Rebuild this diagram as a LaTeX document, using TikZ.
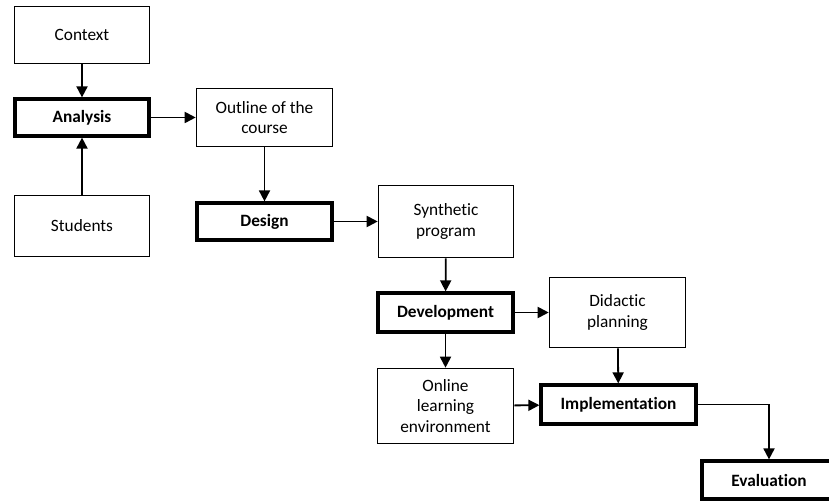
\documentclass[tikz,border=0pt]{standalone}
\usepackage{fontspec}
\setmainfont[Ligatures={NoCommon}]{Carlito}
\usetikzlibrary{arrows.meta}
\begin{document}
\begin{tikzpicture}[x=1pt,y=-1pt,
  box/.style={draw,line width=1.6pt,align=center,inner sep=0pt,
    font=\fontsize{17.3}{20.5}\selectfont,text=black},
  thin/.style={box},
  thick/.style={box,line width=3.2pt,font=\fontsize{17.3}{20.5}\selectfont\bfseries},
  conn/.style={line width=1.8pt,-{Triangle[length=11pt,width=11pt]}}]
\clip (0,0) rectangle (829,502);
\fill[white] (0,0) rectangle (829,502);
\node[thin,minimum width=135pt,minimum height=57pt] (ctx) at (82,35) {Context};
\node[thick,minimum width=134pt,minimum height=37pt] (ana) at (82,117.5) {Analysis};
\node[thin,minimum width=135pt,minimum height=61pt] (stu) at (82,226) {Students};
\node[thin,minimum width=136pt,minimum height=58pt] (out) at (264.5,117.5) {Outline of the\\course};
\node[thick,minimum width=135pt,minimum height=37pt] (des) at (264.5,221.5) {Design};
\node[thin,minimum width=135pt,minimum height=72pt] (syn) at (446,221.5) {Synthetic\\program};
\node[thick,minimum width=135pt,minimum height=39pt] (dev) at (445.5,312.5) {Development};
\node[thin,minimum width=136pt,minimum height=70pt] (did) at (617.5,312.5) {Didactic\\planning};
\node[thin,minimum width=136pt,minimum height=75pt] (onl) at (445.5,406) {Online\\learning\\environment};
\node[thick,minimum width=155pt,minimum height=39pt] (imp) at (618.5,404.5) {Implementation};
\node[thick,minimum width=134pt,minimum height=38pt] (eva) at (769,480) {Evaluation};
\draw[conn] (ctx) -- (ana);
\draw[conn] (stu) -- (ana);
\draw[conn] (ana) -- (out);
\draw[conn] (out) -- (des);
\draw[conn] (des) -- (syn);
\draw[conn] (syn) -- (dev);
\draw[conn] (dev) -- (did);
\draw[conn] (dev) -- (onl);
\draw[conn] (did) -- (imp);
\draw[conn] (onl) -- (imp);
\draw[conn] (imp.east) -| (eva.north);
\end{tikzpicture}
\end{document}
